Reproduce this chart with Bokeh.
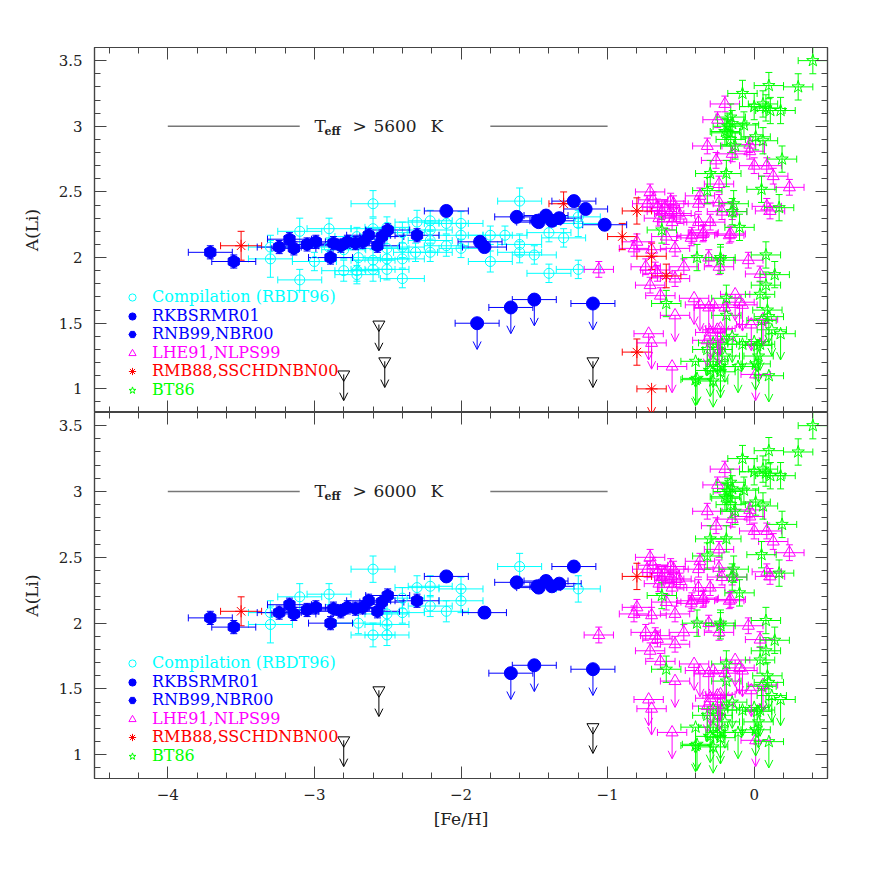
import numpy as np
from bokeh.plotting import figure
from bokeh.layouts import column
from bokeh.models import (ColumnDataSource, Whisker, TeeHead, Arrow, OpenHead, Legend,
                          LegendItem, LinearAxis, Label, Range1d, FixedTicker,
                          CustomJSTickFormatter)
from bokeh.core.properties import value
from bokeh.embed import file_html
from bokeh.resources import INLINE

# ---------------- data ----------------
# Compilation (RBDT96)
cmp_feh = [-2.60, -3.10, -2.90, -3.30, -3.30, -3.10, -3.00, -2.80, -2.71, -2.71,
           -2.70, -2.60, -2.60, -2.505, -2.505, -2.505, -2.505, -2.40, -2.40, -2.40,
           -2.40, -2.30, -2.31, -2.21, -2.21, -2.21, -2.21, -2.10, -2.10, -2.00,
           -2.00, -2.00, -2.60, -2.71, -1.60, -1.80, -1.70, -1.60, -1.60, -1.50,
           -1.40, -1.30, -1.20, -1.20, -1.80, -1.40, -1.20, -2.80, -2.90]
cmp_ali = [2.41, 2.20, 2.22, 2.08, 1.99, 1.83, 1.97, 1.90, 1.90, 1.87,
           2.00, 1.98, 1.91, 2.23, 2.07, 1.99, 1.91, 1.99, 1.84, 2.08,
           2.19, 2.27, 2.04, 2.28, 2.21, 2.13, 2.04, 2.26, 2.09, 2.26,
           2.17, 2.07, 2.22, 2.16, 2.43, 2.17, 2.17, 2.10, 2.04, 2.02,
           2.19, 2.15, 2.31, 2.26, 1.97, 1.88, 1.91, 2.06, 2.08]
cmp_yerr = [0.10, 0.10, 0.08, 0.09, 0.14, 0.08, 0.07, 0.08, 0.08, 0.07,
            0.08, 0.08, 0.09, 0.08, 0.09, 0.08, 0.08, 0.07, 0.07, 0.08,
            0.08, 0.09, 0.07, 0.08, 0.07, 0.08, 0.07, 0.08, 0.08, 0.09,
            0.09, 0.07, 0.08, 0.07, 0.10, 0.07, 0.07, 0.08, 0.08, 0.07,
            0.07, 0.07, 0.08, 0.10, 0.08, 0.07, 0.07, 0.07, 0.07]
cmp_xerr = 0.15
cmp_hot = [1, 1, 1, 1, 1, 0, 0, 0, 0, 0,
           1, 0, 1, 0, 1, 1, 1, 0, 0, 1,
           1, 1, 0, 1, 0, 1, 0, 0, 1, 1,
           1, 0, 0, 0, 1, 0, 0, 0, 0, 0,
           0, 0, 0, 1, 0, 0, 0, 0, 0]

# RKBSRMR01 (detections and upper limits)
rk_feh = [-2.10, -1.87, -1.84, -1.62, -1.48, -1.47, -1.42, -1.38, -1.33, -1.23, -1.15, -1.02]
rk_ali = [2.355, 2.12, 2.08, 2.31, 2.28, 2.27, 2.32, 2.28, 2.30, 2.43, 2.37, 2.25]
rk_hot = [1, 0, 1, 1, 1, 1, 1, 1, 1, 1, 0, 0]
rk_ul_feh = [-1.89, -1.66, -1.50, -1.10]
rk_ul_ali = [1.50, 1.62, 1.68, 1.65]
rk_ul_hot = [0, 1, 1, 1]
rk_xerr, rk_yerr = 0.15, 0.04

# RNB99,NBR00
nb_feh = [-3.71, -3.55, -3.24, -3.17, -3.14, -3.05, -2.99, -2.89, -2.87, -2.82,
          -2.775, -2.72, -2.67, -2.63, -2.57, -2.54, -2.50, -2.30]
nb_ali = [2.04, 1.97, 2.08, 2.14, 2.07, 2.10, 2.12, 2.00, 2.11, 2.09,
          2.12, 2.11, 2.12, 2.17, 2.09, 2.16, 2.21, 2.17]
nb_xerr, nb_yerr = 0.15, 0.05

# LHE91,NLPS99
lh_feh = [-1.06, -0.71, -0.73, -0.66, -0.63, -0.55, -0.58, -0.53, -0.56, -0.60,
          -0.80, -0.82, -0.70, -0.54, -0.43, -0.74, -0.675, -0.48, -0.71, -0.64,
          -0.54, -0.38, -0.38, -0.37, -0.30, -0.35, -0.24, -0.24, -0.22, -0.16,
          -0.15, -0.31, -0.24, -0.04, 0.04, 0.086, 0.108, 0.24, 0.13, 0.086,
          0.0, -0.03, -0.03, -0.15, -0.26, -0.32, -0.25, -0.20, -0.505, -0.425,
          -0.345, -0.17, -0.69, -0.61, -0.57, -0.65, -0.66]
lh_ali = [1.91, 2.50, 2.41, 2.385, 2.35, 2.41, 2.335, 2.335, 2.27, 2.16,
          2.12, 2.07, 2.06, 2.07, 2.15, 1.93, 1.905, 1.93, 1.79, 1.71,
          1.84, 2.27, 2.41, 2.47, 2.27, 2.18, 2.56, 2.42, 2.35, 2.18,
          2.35, 2.00, 1.93, 1.98, 1.875, 2.39, 2.355, 2.535, 2.62, 2.70,
          2.70, 2.81, 2.86, 2.79, 2.74, 2.85, 3.05, 3.17, 2.32, 2.17,
          2.19, 2.17, 2.44, 2.38, 2.43, 2.30, 1.88]
lh_ul_feh = [-0.54, -0.72, -0.70, -0.56, -0.41, -0.37, -0.31, -0.28, -0.13, -0.08,
             -0.02, 0.06, -0.30, -0.25, -0.23, -0.32, 0.01, -0.20, -0.10, -0.24]
lh_ul_ali = [1.56, 1.42, 1.35, 1.17, 1.69, 1.64, 1.62, 1.64, 1.72, 1.64,
             1.49, 1.53, 1.43, 1.45, 1.46, 1.37, 1.11, 1.62, 1.66, 1.38]
lh_xerr, lh_yerr = 0.10, 0.06

# RMB88,SSCHDNBN00
rm_feh = [-3.50, -1.30, -0.80, -0.90, -0.70, -0.60, -0.80]
rm_ali = [2.09, 2.41, 2.355, 2.16, 2.01, 1.86, 1.28]
rm_xerr = [0.14, 0.10, 0.10, 0.10, 0.10, 0.10, 0.10]
rm_yerr = [0.11, 0.09, 0.10, 0.10, 0.10, 0.09, 0.10]
rm_hot = [1, 0, 1, 0, 0, 0, 0]
rm_ul_feh = [-0.70]
rm_ul_ali = [1.00]
rm_ul_hot = [0]

# BT86
bt_feh = [0.40, 0.10, 0.30, -0.08, 0.00, 0.06, 0.08, 0.18, 0.11, -0.16,
          -0.18, -0.07, 0.01, 0.06, -0.19, -0.16, -0.13, 0.19, -0.30, -0.19,
          0.05, -0.32, -0.14, 0.17, -0.15, -0.10, -0.63, -0.39, -0.23, 0.08,
          0.14, 0.08, 0.04, -0.19, -0.60, 0.09, -0.23, -0.20, -0.15]
bt_ali = [3.50, 3.31, 3.30, 3.25, 3.15, 3.17, 3.14, 3.12, 3.12, 3.07,
          3.00, 3.01, 2.92, 2.89, 2.95, 2.90, 2.85, 2.75, 2.64, 2.64,
          2.52, 2.51, 2.41, 2.38, 2.35, 2.23, 2.21, 2.00, 2.00, 2.02,
          1.87, 1.79, 1.72, 1.69, 1.65, 1.60, 1.98, 2.96, 3.02]
bt_ul_feh = [-0.40, -0.40, -0.28, -0.23, -0.11, 0.01, 0.10, 0.02, 0.04, 0.00,
             -0.08, 0.18, 0.10, 0.05, -0.19, -0.28, -0.22, -0.30, -0.39, -0.23,
             -0.28, -0.25, -0.20, 0.03, -0.15, -0.32, 0.12]
bt_ul_ali = [1.21, 1.07, 1.21, 1.17, 1.17, 1.19, 1.10, 1.33, 1.34, 1.36,
             1.34, 1.42, 1.55, 1.52, 1.56, 1.35, 1.34, 1.14, 1.08, 1.13,
             1.06, 1.30, 1.25, 1.25, 1.40, 1.30, 1.45]
bt_xerr, bt_yerr = 0.10, 0.10

# unlabelled upper limits (black)
bk_feh = [-2.80, -2.56, -2.52, -1.10]
bk_ali = [1.11, 1.49, 1.21, 1.21]
bk_hot = [1, 1, 0, 1]

# axes
x_major = [-4, -3, -2, -1, 0]
y_major = [1.0, 1.5, 2.0, 2.5, 3.0, 3.5]
titles = ["5600", "6000"]

# ---------------- styles ----------------
CYAN, BLUE, MAG, RED, GREEN, BLACK = "#00ffff", "#0000ff", "#ff00ff", "#ff0000", "#00ff00", "#000000"
FRAME = "#444444"
FONT = "DejaVu Serif"
ARROW_LEN = 0.2
x_minor = [round(v, 2) for v in np.arange(-4.4, 0.41, 0.2)]
y_minor = [round(v, 2) for v in np.arange(0.9, 3.61, 0.1)]


def sel(lst, hot, hot_only):
    if not hot_only or hot is None:
        return list(lst)
    return [v for v, h in zip(lst, hot) if h]


def as_list(e, n):
    return list(e) if isinstance(e, list) else [e] * n


def add_whisker(p, src, base, lo, hi, dim, color):
    p.add_layout(Whisker(source=src, base=base, lower=lo, upper=hi, dimension=dim,
                         line_color=color, line_width=1,
                         lower_head=TeeHead(size=7, line_color=color, line_width=1),
                         upper_head=TeeHead(size=7, line_color=color, line_width=1)))


def draw_series(p, feh, ali, xerr, yerr, marker, size, color, fill, angle=0.0,
                ul_feh=None, ul_ali=None, ul_xerr=None):
    n = len(feh)
    xe = as_list(xerr, n)
    ye = as_list(yerr, n)
    r = None
    if n:
        src = ColumnDataSource(dict(
            x=feh, y=ali,
            xl=[a - b for a, b in zip(feh, xe)], xu=[a + b for a, b in zip(feh, xe)],
            yl=[a - b for a, b in zip(ali, ye)], yu=[a + b for a, b in zip(ali, ye)]))
        if any(v > 0 for v in xe):
            add_whisker(p, src, "y", "xl", "xu", "width", color)
        if any(v > 0 for v in ye):
            add_whisker(p, src, "x", "yl", "yu", "height", color)
        r = p.scatter("x", "y", source=src, marker=marker, size=size, angle=angle,
                      line_color=color, line_width=1,
                      fill_color=color if fill else None)
    if ul_feh:
        m = len(ul_feh)
        uxe = as_list(ul_xerr if ul_xerr is not None else 0.0, m)
        usrc = ColumnDataSource(dict(
            x=ul_feh, y=ul_ali, ye=[a - ARROW_LEN for a in ul_ali],
            xl=[a - b for a, b in zip(ul_feh, uxe)], xu=[a + b for a, b in zip(ul_feh, uxe)]))
        if any(v > 0 for v in uxe):
            add_whisker(p, usrc, "y", "xl", "xu", "width", color)
        p.add_layout(Arrow(source=usrc, x_start="x", y_start="y", x_end="x", y_end="ye",
                           line_color=color, line_width=1,
                           end=OpenHead(size=8, line_color=color, line_width=1)))
        r2 = p.scatter("x", "y", source=usrc, marker=marker, size=size, angle=angle,
                       line_color=color, line_width=1, fill_color=color if fill else None)
        if r is None:
            r = r2
    return r


def style_axis(ax, labeled):
    ax.axis_line_color = FRAME
    ax.axis_line_width = 1.2
    ax.major_tick_line_color = FRAME
    ax.minor_tick_line_color = FRAME
    ax.major_tick_in = 12
    ax.major_tick_out = 0
    ax.minor_tick_in = 6
    ax.minor_tick_out = 0
    if labeled:
        ax.major_label_text_font = FONT
        ax.major_label_text_font_size = "15px"
        ax.major_label_text_color = "#222222"
        ax.axis_label_text_font = FONT
        ax.axis_label_text_font_size = "17px"
        ax.axis_label_text_font_style = "normal"
        ax.axis_label_text_color = "#222222"
    else:
        ax.formatter = CustomJSTickFormatter(code="return '';")
        ax.major_label_text_font_size = "0px"
        ax.major_label_standoff = 0


def make_panel(hot_only, temp, bottom):
    p = figure(x_range=Range1d(-4.5, 0.5), y_range=Range1d(0.82, 3.6),
               frame_width=733, frame_height=366 if bottom else 365,
               output_backend="svg", toolbar_location=None,
               x_axis_location=None, y_axis_location=None,
               min_border_left=94, min_border_right=31,
               min_border_top=0 if bottom else 47, min_border_bottom=0,
               background_fill_color="white", border_fill_color="white",
               outline_line_color=FRAME, outline_line_width=1.2)
    p.grid.visible = False

    xt = FixedTicker(ticks=x_major, minor_ticks=x_minor)
    yt = FixedTicker(ticks=y_major, minor_ticks=y_minor)
    for side in ["below", "above", "left", "right"]:
        ax = LinearAxis(ticker=xt if side in ("below", "above") else yt)
        labeled = side == "left" or (side == "below" and bottom)
        style_axis(ax, labeled)
        if side == "left":
            ax.formatter = CustomJSTickFormatter(
                code="return (Math.abs(tick % 1) < 1e-9) ? tick.toFixed(0) : tick.toFixed(1);")
            ax.axis_label = "A(Li)"
            ax.major_label_standoff = 12
            ax.axis_label_standoff = 14
        if side == "below" and bottom:
            ax.formatter = CustomJSTickFormatter(
                code="return tick < 0 ? '\u2212' + Math.abs(tick).toFixed(0) : tick.toFixed(0);")
            ax.axis_label = "[Fe/H]"
            ax.major_label_standoff = 10
            ax.axis_label_standoff = 6
        p.add_layout(ax, side)

    # title lines and text
    p.segment(x0=[-4.0, -1.8], y0=[3.0, 3.0], x1=[-3.1, -1.0], y1=[3.0, 3.0],
              line_color="#777777", line_width=1.5)
    for txt, dx, dy, fs, st in [("T", 0, 0, "17px", "normal"), ("eff", 10, -5, "11px", "bold"),
                                (">", 38, 0, "17px", "normal"), (temp, 59, 0, "17px", "normal"),
                                ("K", 116, 0, "17px", "normal")]:
        p.add_layout(Label(x=-3.0, y=3.0, x_offset=dx, y_offset=dy, text=txt,
                           text_font=FONT, text_font_size=fs, text_font_style=st,
                           text_color="#222222", text_baseline="alphabetic", text_align="left"))

    r_cmp = draw_series(p, sel(cmp_feh, cmp_hot, hot_only), sel(cmp_ali, cmp_hot, hot_only),
                        cmp_xerr, sel(cmp_yerr, cmp_hot, hot_only), "circle", 10, CYAN, False)
    r_lh = draw_series(p, lh_feh, lh_ali, lh_xerr, lh_yerr, "triangle", 12, MAG, False,
                       ul_feh=lh_ul_feh, ul_ali=lh_ul_ali, ul_xerr=lh_xerr)
    r_bt = draw_series(p, bt_feh, bt_ali, bt_xerr, bt_yerr, "star", 13, GREEN, False,
                       ul_feh=bt_ul_feh, ul_ali=bt_ul_ali, ul_xerr=bt_xerr)
    r_rm = draw_series(p, sel(rm_feh, rm_hot, hot_only), sel(rm_ali, rm_hot, hot_only),
                       sel(rm_xerr, rm_hot, hot_only), sel(rm_yerr, rm_hot, hot_only),
                       "asterisk", 12, RED, False,
                       ul_feh=sel(rm_ul_feh, rm_ul_hot, hot_only),
                       ul_ali=sel(rm_ul_ali, rm_ul_hot, hot_only), ul_xerr=0.10)
    draw_series(p, [], [], 0.0, 0.0, "inverted_triangle", 12, BLACK, False,
                ul_feh=sel(bk_feh, bk_hot, hot_only), ul_ali=sel(bk_ali, bk_hot, hot_only),
                ul_xerr=0.0)
    r_nb = draw_series(p, nb_feh, nb_ali, nb_xerr, nb_yerr, "hex", 13, BLUE, True, angle=np.pi / 2)
    r_rk = draw_series(p, sel(rk_feh, rk_hot, hot_only), sel(rk_ali, rk_hot, hot_only),
                       rk_xerr, rk_yerr, "circle", 13, BLUE, True,
                       ul_feh=sel(rk_ul_feh, rk_ul_hot, hot_only),
                       ul_ali=sel(rk_ul_ali, rk_ul_hot, hot_only), ul_xerr=rk_xerr)

    legend_rows = [("Compilation (RBDT96)", CYAN, r_cmp), ("RKBSRMR01", BLUE, r_rk),
                   ("RNB99,NBR00", BLUE, r_nb), ("LHE91,NLPS99", MAG, r_lh),
                   ("RMB88,SSCHDNBN00", RED, r_rm), ("BT86", GREEN, r_bt)]
    row_bottoms = [106, 87, 69, 50, 32, 13]
    for (lab, col, rend), yb in zip(legend_rows, row_bottoms):
        lg = Legend(items=[LegendItem(label=value(lab), renderers=[rend])],
                    location=(29, yb), orientation="vertical",
                    glyph_width=18, glyph_height=18, label_height=18, label_width=10,
                    label_standoff=11, padding=0, margin=0, spacing=0,
                    border_line_color=None, background_fill_alpha=0,
                    label_text_color=col, label_text_font=FONT, label_text_font_size="16px")
        p.add_layout(lg)
    return p


top = make_panel(False, titles[0], False)
bot = make_panel(True, titles[1], True)
bot.x_range = top.x_range
layout = column(top, bot, spacing=0)

open("out.html", "w").write(file_html(layout, INLINE, title="A(Li) vs [Fe/H]"))
